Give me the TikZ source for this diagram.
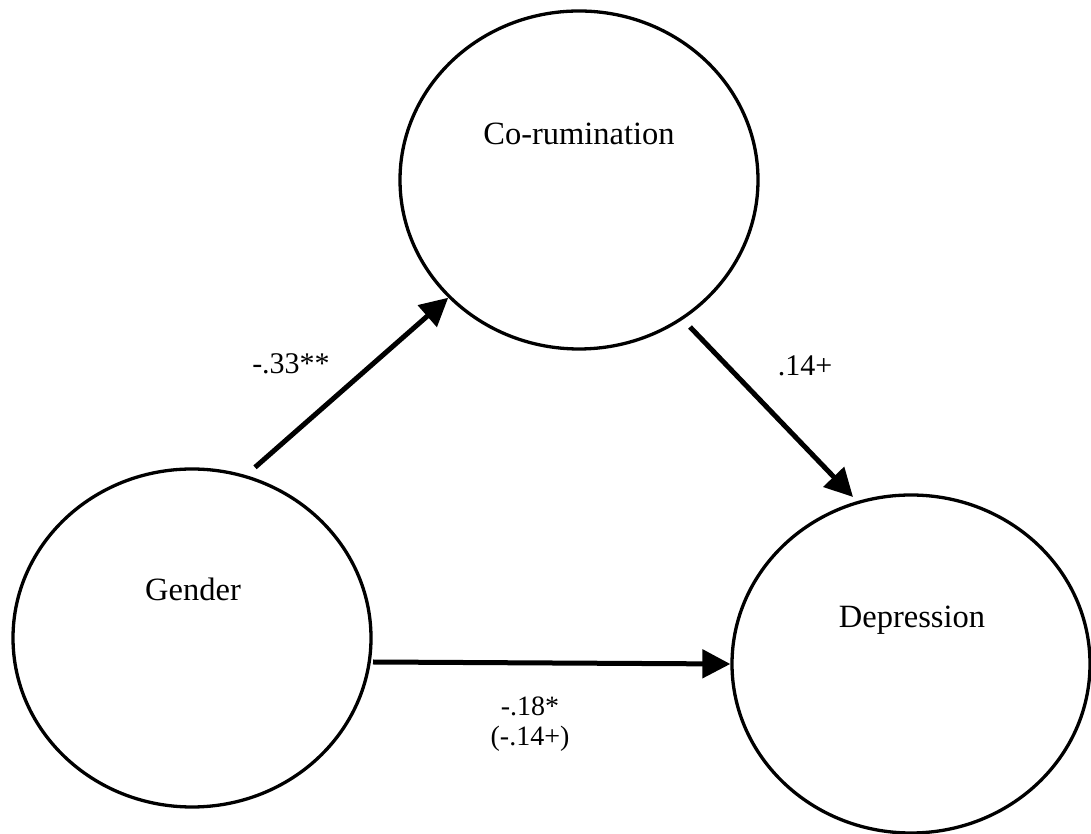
\documentclass[tikz,border=0pt]{standalone}
\usepackage{fontspec}
\setmainfont{Liberation Serif}
\usetikzlibrary{shapes.geometric,arrows.meta}
\tikzset{
  latent/.style={ellipse, draw=black, line width=3.3pt, minimum width=358pt, minimum height=338pt, inner sep=0pt},
  nametext/.style={anchor=base, inner sep=0pt, font=\fontsize{32.5}{36}\selectfont},
  coef/.style={anchor=base, inner sep=0pt, font=\fontsize{30}{34}\selectfont},
  coefsmall/.style={anchor=base, inner sep=0pt, font=\fontsize{28}{31}\selectfont},
  arr/.style={line width=5pt, -{Triangle[length=28pt,width=28pt]}}
}
\begin{document}
\begin{tikzpicture}[x=1pt,y=1pt]
\useasboundingbox (0,0) rectangle (1091,834);
\fill[white] (0,0) rectangle (1091,834);
% circles
\node[latent] (gender) at (192,196) {};
\node[latent] (corum) at (579,654) {};
\node[latent] (depr) at (911,170) {};
% names
\node[nametext] (gendertext) at (193,233) {Gender};
\node[nametext] (corumtext) at (579,689) {Co-rumination};
\node[nametext] (deprtext) at (912,206) {Depression};
% paths
\draw[arr] ([xshift=63pt]gender.north) -- (corum.222);
\draw[arr] ([shift={(111pt,-147pt)}]corum.center) -- ([shift={(-58pt,167pt)}]depr.center);
\draw[arr] ([shift={(181pt,-24pt)}]gender.center) -- (depr.west);
% coefficients
\node[coef] (c1) at (291,460) {-.33**};
\node[coef] (c2) at (805,458) {.14+};
\node[coefsmall] (c3) at (530,118) {-.18*};
\node[coefsmall] (c4) at (530,88) {(-.14+)};
\end{tikzpicture}
\end{document}
